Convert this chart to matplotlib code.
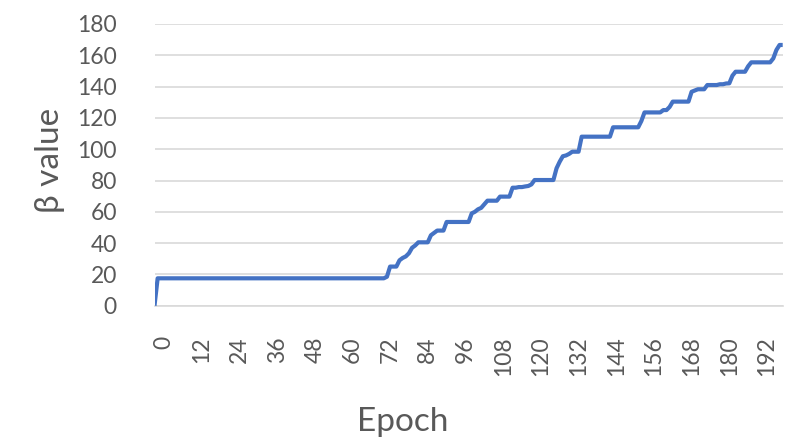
import matplotlib
matplotlib.use("Agg")
import matplotlib.pyplot as plt
import matplotlib.transforms as mtransforms
import numpy as np

plt.rcParams['font.family'] = ['Lato', 'DejaVu Sans']

# beta value per epoch (epochs 0..200)
beta = (
    [0.0] + [17.5] * 73 + [18.5] +                      # 0..74
    [25, 25, 25, 29, 30.5, 31.5, 33.5, 37, 38.5,         # 75..83
     40.5, 40.5, 40.5, 40.5, 45, 46.5, 48, 48, 48,       # 84..92
     53.5, 53.5, 53.5, 53.5, 53.5, 53.5, 53.5, 53.5,     # 93..100
     59, 60, 61.6, 62.5, 64.8, 67.1, 67.1, 67.1, 67.1,   # 101..109
     69.7, 69.7, 69.7, 69.7, 75.4, 75.4, 75.8, 75.8,     # 110..117
     76.2, 76.5, 77.5, 80.3, 80.3, 80.3, 80.3, 80.3,     # 118..125
     80.3, 80.3, 87.8, 92, 95.5, 96, 97, 98.4, 98.4,     # 126..134
     98.4] +                                             # 135
    [108] * 10 +                                         # 136..145
    [114] * 9 +                                          # 146..154
    [118, 123.5, 123.5, 123.5, 123.5, 123.5, 123.5,      # 155..161
     125, 125, 127, 130.4, 130.4, 130.4, 130.4, 130.4,   # 162..169
     130.4, 136.7, 137.5, 138.3, 138.3, 138.3,           # 170..175
     141, 141, 141, 141, 141.5, 141.5, 142, 142.1,       # 176..183
     147, 149.5, 149.5, 149.5, 149.5, 153,               # 184..189
     155.5, 155.5, 155.5, 155.5, 155.5, 155.5, 155.5,    # 190..196
     158, 163.4, 166.6, 166.6]                           # 197..200
)
epochs = list(range(len(beta)))

xtick_vals = list(range(0, 193, 12))
ytick_vals = list(range(0, 181, 20))

fig = plt.figure(figsize=(8.08, 4.47), dpi=100)
ax = fig.add_axes([154.5 / 808, 1 - 305.7 / 447, (782.7 - 154.5) / 808, (305.7 - 24) / 447])

ax.plot(epochs, beta, color='#4472C4', lw=3, solid_joinstyle='round', solid_capstyle='butt', zorder=3)

ax.set_xlim(0, 200)
ax.set_ylim(0, 180)
ax.set_yticks(ytick_vals)
ax.set_xticks(xtick_vals)
ax.set_xticklabels([str(v) for v in xtick_vals], rotation=90)

ax.grid(axis='y', color='#d9d9d9', lw=1.2)
ax.set_axisbelow(True)
for s in ['top', 'right', 'left']:
    ax.spines[s].set_visible(False)
ax.spines['bottom'].set_color('#d9d9d9')
ax.spines['bottom'].set_linewidth(1.2)

ax.tick_params(axis='both', length=0, colors='#595959', labelsize=16.5)
ax.tick_params(axis='y', pad=27)
ax.tick_params(axis='x', pad=22)

offset = mtransforms.ScaledTranslation(9.5 / 100, 0, fig.dpi_scale_trans)
for lab in ax.get_xticklabels():
    lab.set_transform(lab.get_transform() + offset)

fig.text(50 / 808, 1 - 160 / 447, 'β value', rotation=90, ha='center', va='center',
         fontsize=24, color='#595959')
fig.text(403 / 808, 1 - 422 / 447, 'Epoch', ha='center', va='center',
         fontsize=24, color='#595959')

fig.savefig('out.png', dpi=100, facecolor='white')
